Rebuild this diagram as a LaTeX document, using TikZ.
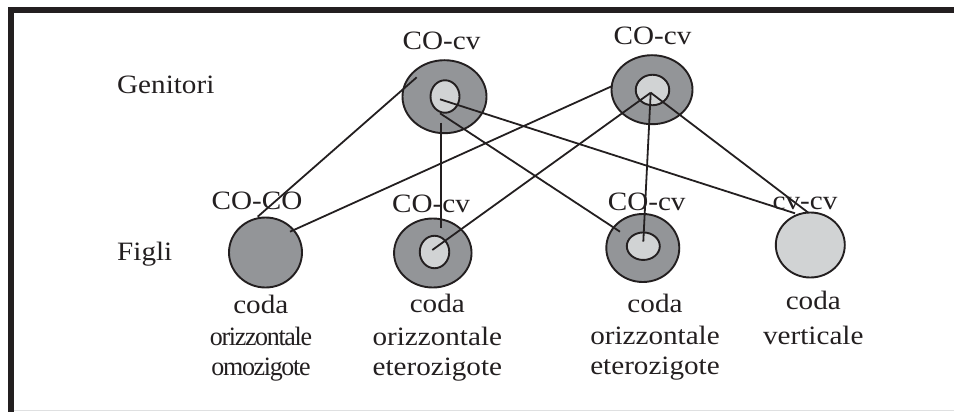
\documentclass[tikz,border=0pt]{standalone}
\usepackage{fontspec}
\setmainfont[FakeStretch=1.1]{Liberation Serif}
\newfontfamily\narrowfont[FakeStretch=0.98, LetterSpace=-5]{Liberation Serif}
\usetikzlibrary{shapes.geometric}
\definecolor{ink}{HTML}{231F20}
\definecolor{darkfill}{HTML}{939598}
\definecolor{lightfill}{HTML}{D1D3D4}
\tikzset{
  outer/.style={ellipse, draw=ink, line width=1.9pt, fill=darkfill, inner sep=0pt},
  inner/.style={ellipse, draw=ink, line width=1.9pt, fill=lightfill, inner sep=0pt},
  plain/.style={ellipse, draw=ink, line width=1.9pt, inner sep=0pt},
  link/.style={draw=ink, line width=1.8pt},
  lbl/.style={anchor=base, inner sep=0pt, text=ink, font=\fontsize{26.5}{31}\selectfont},
  nlbl/.style={lbl, font=\fontsize{26.5}{31}\selectfont\narrowfont},
}
\begin{document}
\begin{tikzpicture}[x=1pt, y=-1pt]
\useasboundingbox (0,0) rectangle (954,412);
% frame
\draw[lightfill!70!white, line width=1pt] (11,410.5) -- (954,410.5);
\draw[ink, line width=5.5pt, line join=miter] (11,412) -- (11,10) -- (954,10);

% row labels
\node[lbl, anchor=base west] (gen) at (117,93.3) {Genitori};
\node[lbl, anchor=base west] (fig) at (117,260) {Figli};

% parents
\node[outer, minimum width=84pt, minimum height=73pt] (p1) at (444.5,96.7) {};
\node[inner, minimum width=29pt, minimum height=32.5pt] (p1i) at (445,96.5) {};
\node[outer, minimum width=81pt, minimum height=69pt] (p2) at (652,89.7) {};
\node[inner, minimum width=33.5pt, minimum height=30.5pt] (p2i) at (652.5,90) {};

% children
\node[plain, fill=darkfill, minimum width=73pt, minimum height=70pt] (c1) at (265.5,252.5) {};
\node[outer, minimum width=77.5pt, minimum height=69pt] (c2) at (432.8,253) {};
\node[inner, minimum width=29.5pt, minimum height=32.5pt] (c2i) at (434.5,252) {};
\node[outer, minimum width=73pt, minimum height=68pt] (c3) at (642.8,248) {};
\node[inner, minimum width=33pt, minimum height=27.5pt] (c3i) at (643.3,246.2) {};
\node[plain, fill=lightfill, minimum width=69pt, minimum height=65pt] (c4) at (810.3,245) {};

% line ends inside the circles
\coordinate (p1a) at (416.7,77.3);
\coordinate (p1b) at (440,99.3);
\coordinate (p1c) at (440.7,122.7);
\coordinate (p1d) at (440,113.3);
\coordinate (p2a) at (612.3,86);
\coordinate (p2b) at (650.7,92.7);
\coordinate (c1a) at (257.7,216.7);
\coordinate (c1b) at (290,231.7);
\coordinate (c2a) at (440.7,228.3);
\coordinate (c2b) at (432.3,250);
\coordinate (c3a) at (620,231.7);
\coordinate (c3b) at (643.3,241.7);
\coordinate (c4a) at (795,213.3);
\coordinate (c4b) at (808.3,212.7);

% crosses
\draw[link] (p1a) -- (c1a);
\draw[link] (p1b) -- (c4a);
\draw[link] (p1c) -- (c2a);
\draw[link] (p1d) -- (c3a);
\draw[link] (p2a) -- (c1b);
\draw[link] (p2b) -- (c2b);
\draw[link] (p2b) -- (c3b);
\draw[link] (p2b) -- (c4b);

% genotypes
\node[lbl] (g1) at (441.5,49.3) {CO-cv};
\node[lbl] (g2) at (652.5,44.4) {CO-cv};
\node[lbl] (g3) at (257,209) {CO-CO};
\node[lbl] (g4) at (431,212.7) {CO-cv};
\node[lbl] (g5) at (646.7,210.7) {CO-cv};
\node[lbl] (g6) at (805,209.3) {cv-cv};

% phenotypes
\node[lbl] (t1a) at (260.8,313.3) {coda};
\node[nlbl] (t1b) at (261,345) {orizzontale};
\node[nlbl] (t1c) at (261,375) {omozigote};
\node[lbl] (t2a) at (437.3,312.7) {coda};
\node[lbl] (t2b) at (437.3,345) {orizzontale};
\node[lbl] (t2c) at (437.3,375) {eterozigote};
\node[lbl] (t3a) at (655,312.7) {coda};
\node[lbl] (t3b) at (655,344.3) {orizzontale};
\node[lbl] (t3c) at (655,374) {eterozigote};
\node[lbl] (t4a) at (813.3,309.3) {coda};
\node[lbl] (t4b) at (813.3,344.3) {verticale};
\end{tikzpicture}
\end{document}
